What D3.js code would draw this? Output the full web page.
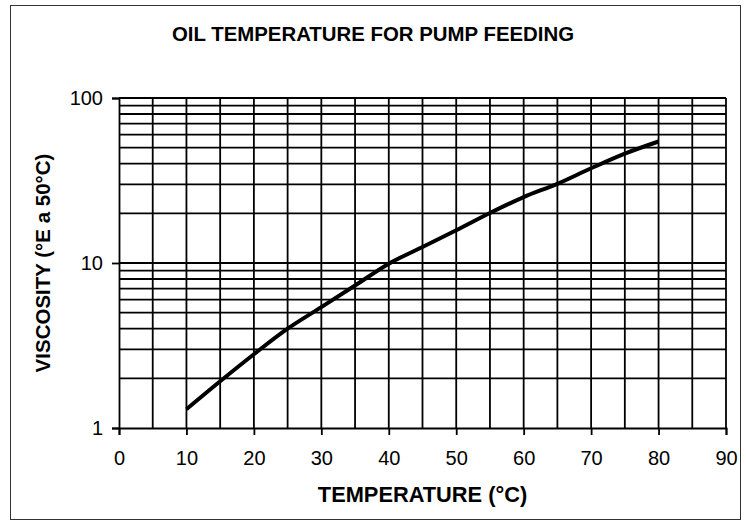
<!DOCTYPE html>
<html>
<head>
<meta charset="utf-8">
<script src="https://cdn.jsdelivr.net/npm/d3@7"></script>
<style>
  body { margin: 0; background: #fff; }
  svg { display: block; font-family: "Liberation Sans", Arial, sans-serif; }
</style>
</head>
<body>
<div id="chart"></div>
<script>
// temperature (°C) vs viscosity (°E at 50°C)
var temperature = [10, 15, 20, 25, 30, 35, 40, 45, 50, 55, 60, 65, 70, 75, 80];
var viscosity = [1.3, 1.92, 2.8, 4.0, 5.4, 7.3, 9.9, 12.5, 15.8, 20.1, 25.1, 30.2, 37.5, 46, 54.5];
var xTicks = [0, 10, 20, 30, 40, 50, 60, 70, 80, 90];
var yTicks = [1, 10, 100];

var W = 746, H = 526;
var margin = {top: 98, right: 20, bottom: 98, left: 119},
    width = 726 - margin.left,
    height = 428 - margin.top;

var svg = d3.select("#chart").append("svg")
    .attr("width", W)
    .attr("height", H);

// chart area border
svg.append("rect")
    .attr("x", 10.5).attr("y", 5.5)
    .attr("width", 730).attr("height", 514)
    .attr("fill", "none")
    .attr("stroke", "#333")
    .attr("stroke-width", 1);

svg.append("text")
    .attr("x", 373).attr("y", 41)
    .attr("text-anchor", "middle")
    .style("font-size", "20.4px")
    .style("font-weight", "bold")
    .text("OIL TEMPERATURE FOR PUMP FEEDING");

var g = svg.append("g")
    .attr("transform", "translate(" + margin.left + "," + margin.top + ")");

var x = d3.scaleLinear().domain([0, 90]).range([0, width]);
var y = d3.scaleLog().domain([1, 100]).range([height, 0]);

// grid lines
var vGrid = d3.range(5, 95, 5);
var hGrid = [];
[1, 10].forEach(function(dec) {
    for (var i = 2; i <= 10; i++) hGrid.push(dec * i);
});

g.append("g").selectAll("line.v")
    .data(vGrid)
    .enter().append("line")
    .attr("x1", function(d) { return x(d); })
    .attr("x2", function(d) { return x(d); })
    .attr("y1", 0).attr("y2", height)
    .attr("stroke", "#000").attr("stroke-width", 1.8);

g.append("g").selectAll("line.h")
    .data(hGrid)
    .enter().append("line")
    .attr("x1", 0).attr("x2", width)
    .attr("y1", function(d) { return y(d); })
    .attr("y2", function(d) { return y(d); })
    .attr("stroke", "#000").attr("stroke-width", 1.8);

// axes
var xAxis = g.append("g")
    .attr("transform", "translate(0," + height + ")")
    .call(d3.axisBottom(x).tickValues(xTicks).tickSize(7).tickPadding(16).tickFormat(d3.format("d")));

var yAxis = g.append("g")
    .call(d3.axisLeft(y).tickValues(yTicks).tickSize(7).tickPadding(9).tickFormat(d3.format("d")));

[xAxis, yAxis].forEach(function(ax) {
    ax.select(".domain").attr("stroke", "#000").attr("stroke-width", 1.8);
    ax.selectAll(".tick line").attr("stroke", "#000").attr("stroke-width", 1.8);
    ax.selectAll(".tick text")
        .attr("fill", "#000")
        .style("font-size", "20px")
        .style("font-family", "'Liberation Sans', Arial, sans-serif");
});

// curve
var line = d3.line()
    .x(function(d, i) { return x(temperature[i]); })
    .y(function(d) { return y(d); })
    .curve(d3.curveMonotoneX);

g.append("path")
    .datum(viscosity)
    .attr("fill", "none")
    .attr("stroke", "#000")
    .attr("stroke-width", 4)
    .attr("d", line);

// axis titles
svg.append("text")
    .attr("x", margin.left + width / 2).attr("y", 502)
    .attr("text-anchor", "middle")
    .style("font-size", "21.8px")
    .style("font-weight", "bold")
    .text("TEMPERATURE (°C)");

svg.append("text")
    .attr("transform", "translate(50," + (margin.top + height / 2) + ") rotate(-90)")
    .attr("text-anchor", "middle")
    .style("font-size", "20.5px")
    .style("font-weight", "bold")
    .text("VISCOSITY (°E a 50°C)");
</script>
</body>
</html>
